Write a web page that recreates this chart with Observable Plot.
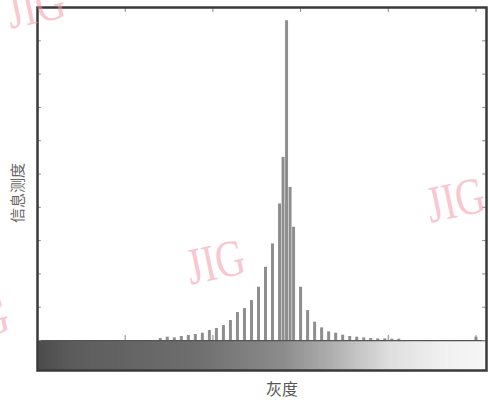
<!DOCTYPE html>
<html>
<head>
<meta charset="utf-8">
<script src="https://cdn.jsdelivr.net/npm/d3@7"></script>
<script src="https://cdn.jsdelivr.net/npm/@observablehq/plot@0.6"></script>
<style>
  html, body { margin: 0; padding: 0; background: #fff; }
  #wrap { position: relative; width: 489px; height: 403px; overflow: hidden; }
  .wm { position: absolute; font-family: "Liberation Serif", "DejaVu Serif", serif; color: rgba(245,150,165,0.55);
        font-size: 52px; line-height: 1; transform: rotate(-12deg) scaleX(0.78); transform-origin: center; white-space: nowrap; pointer-events: none; }
</style>
</head>
<body>
<div id="wrap"></div>
<script>
// Gray levels (x) and information-measure values (y)
const grayLevels = [70,74,78,82,86,90,94,98,102,106,110,114,118,122,126,130,134,138,140,142,144,146,150,154,158,162,166,170,174,178,182,186,190,194,198,202,206,250];
const measure    = [0.06,0.1,0.08,0.12,0.15,0.18,0.22,0.3,0.36,0.45,0.6,0.84,0.96,1.2,1.6,2.2,2.9,4.1,5.5,9.6,4.6,3.4,1.6,0.9,0.55,0.38,0.26,0.22,0.16,0.12,0.1,0.08,0.06,0.05,0.05,0.04,0.04,0.1];
const yTicks = [0,1,2,3,4,5,6,7,8,9,10];
const xTicks = [0,50,100,150,200,250];
const xLabel = "灰度";
const yLabel = "信息测度";
// gray-scale strip under the histogram
const stripLevels = d3.range(0, 256);
const stripStops = [0, 20, 90, 140, 170, 200, 230, 256];
const stripColors = ["#4c4c4c", "#5c5c5c", "#6e6e6e", "#8c8c8c", "#b2b2b2", "#dedede", "#f0f0f0", "#f6f6f6"];

const bars = grayLevels.map((g, i) => ({g, v: measure[i]}));
const strip = stripLevels.map(g => ({g}));

const chart = Plot.plot({
  width: 489,
  height: 403,
  marginTop: 7,
  marginBottom: 33,
  marginLeft: 37,
  marginRight: 3,
  x: {domain: [0, 256], axis: null},
  y: {domain: [-0.9, 10], axis: null},
  color: {type: "linear", domain: stripStops, range: stripColors},
  style: {background: "#fff", fontFamily: "'Noto Sans CJK SC', sans-serif"},
  marks: [
    Plot.rect(strip, {x1: "g", x2: d => Math.min(256, d.g + 1.6), y1: -0.9, y2: 0, fill: "g", shapeRendering: "crispEdges"}),
    Plot.ruleY([0], {stroke: "#555", strokeWidth: 1.2}),
    Plot.ruleX(bars, {x: "g", y1: 0, y2: "v", stroke: "#8e8e8e", strokeWidth: 3}),
    // inward ticks on left and right
    Plot.ruleY(yTicks, {y: d => d, x1: 0, x2: 2.2, stroke: "#888", strokeWidth: 1}),
    Plot.ruleY(yTicks, {y: d => d, x1: 253.8, x2: 256, stroke: "#888", strokeWidth: 1}),
    // inward ticks on top and at the strip top
    Plot.ruleX(xTicks, {x: d => d, y1: 10, y2: 9.85, stroke: "#888", strokeWidth: 1}),
    Plot.ruleX(xTicks, {x: d => d, y1: 0, y2: 0.15, stroke: "#888", strokeWidth: 1}),
    Plot.frame({stroke: "#3a3a3a", strokeWidth: 2.5}),
    Plot.text([xLabel], {frameAnchor: "bottom", dx: 20, dy: 13, fontSize: 16, fill: "#555", lineAnchor: "top"}),
    Plot.text([yLabel], {frameAnchor: "left", textAnchor: "middle", dx: -19, dy: 4, rotate: -90, fontSize: 15, fill: "#666"})
  ]
});

const wrap = document.getElementById("wrap");
wrap.appendChild(chart);
chart.style.position = "absolute";
chart.style.left = "0px";
chart.style.top = "0px";

// JIG watermarks
[[-2, -20], [178, 236], [418, 174], [-58, 294]].forEach(([l, t]) => {
  const d = document.createElement("div");
  d.className = "wm";
  d.textContent = "JIG";
  d.style.left = l + "px";
  d.style.top = t + "px";
  wrap.appendChild(d);
});
</script>
</body>
</html>
